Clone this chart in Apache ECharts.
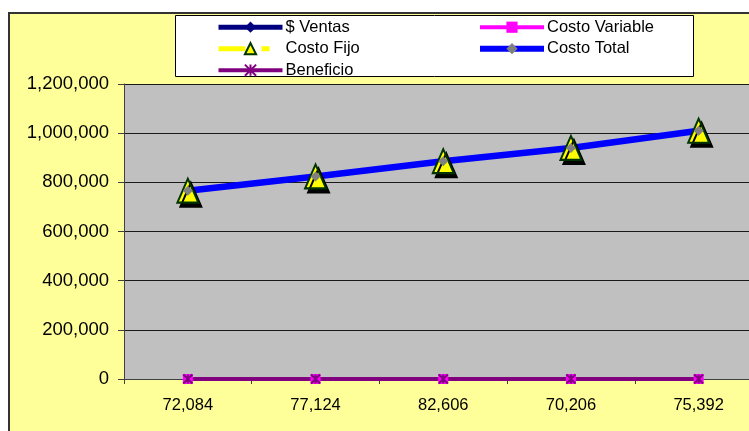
<!DOCTYPE html>
<html>
<head>
<meta charset="utf-8">
<script src="https://cdn.jsdelivr.net/npm/echarts@6/dist/echarts.min.js"></script>
<style>
  html, body { margin: 0; padding: 0; background: #ffffff; }
  #chart { width: 749px; height: 431px; }
</style>
</head>
<body>
<div id="chart"></div>
<script>
// Categorías del eje X (unidades vendidas)
const categorias = ['72,084', '77,124', '82,606', '70,206', '75,392'];

// Series del gráfico
const ventas        = [0, 0, 0, 0, 0];
const costoVariable = [0, 0, 0, 0, 0];
const costoFijo     = [766000, 824000, 886000, 940000, 1010000];
const costoTotal    = [766000, 824000, 886000, 940000, 1010000];
const beneficio     = [0, 0, 0, 0, 0];

// Escala del eje Y
const yMin = 0;
const yMax = 1200000;
const yPaso = 200000;

const FUENTE = '"Liberation Sans", Arial, sans-serif';
const ASTERISCO = 'path://M0,0L10,10M10,0L0,10M5,0L5,10';

const fmtMiles = v => String(v).replace(/\B(?=(\d{3})+(?!\d))/g, ',');

const chart = echarts.init(document.getElementById('chart'), null, { renderer: 'canvas' });

const legendaBase = {
  orient: 'vertical',
  itemWidth: 64,
  itemHeight: 14,
  itemGap: 4.5,
  padding: 0,
  selectedMode: false,
  textStyle: { fontFamily: FUENTE, fontSize: 16.5, color: '#000', lineHeight: 14, padding: [0, 0, 0, -2] }
};

chart.setOption({
  animation: false,
  backgroundColor: '#ffffff',
  graphic: [
    {
      type: 'rect', z: -10, silent: true,
      shape: { x: 9, y: 13, width: 800, height: 460 },
      style: { fill: '#FFFF99', stroke: '#333333', lineWidth: 2 }
    },
    {
      type: 'rect', z: -5, silent: true,
      shape: { x: 175.5, y: 15.5, width: 518, height: 61 },
      style: { fill: '#ffffff', stroke: '#000000', lineWidth: 1 }
    }
  ],
  legend: [
    Object.assign({}, legendaBase, {
      left: 216, top: 18.7,
      data: [
        { name: '$ Ventas', lineStyle: { color: '#000080', width: 5 } },
        {
          name: 'Costo Fijo',
          lineStyle: { color: '#FFFF00', width: 5, type: [27, 16, 8, 30] },
          itemStyle: { color: '#FFFF00', borderColor: '#003300', borderWidth: 2 }
        },
        {
          name: 'Beneficio',
          lineStyle: { color: '#800080', width: 4 },
          itemStyle: { color: 'rgba(0,0,0,0)', borderColor: '#800080', borderWidth: 2 }
        }
      ]
    }),
    Object.assign({}, legendaBase, {
      left: 477, top: 18.7,
      data: [
        { name: 'Costo Variable', lineStyle: { color: '#FF00FF', width: 4 } },
        { name: 'Costo Total', lineStyle: { color: '#0000FF', width: 6 } }
      ]
    })
  ],
  grid: {
    left: 124, width: 638.5, top: 84, bottom: 52,
    outerBoundsMode: 'none', containLabel: false,
    show: true, backgroundColor: '#C0C0C0', borderWidth: 0
  },
  xAxis: {
    type: 'category',
    data: categorias,
    boundaryGap: true,
    axisLine: { show: true, lineStyle: { color: '#404040', width: 1 } },
    axisTick: { show: true, interval: 0, length: 5, lineStyle: { color: '#404040' } },
    axisLabel: { interval: 0, margin: 18, color: '#000', fontFamily: FUENTE, fontSize: 16.5 },
    splitLine: { show: false }
  },
  yAxis: {
    type: 'value',
    min: yMin, max: yMax, interval: yPaso,
    axisLine: { show: true, lineStyle: { color: '#404040', width: 1 } },
    axisTick: { show: true, length: 6, lineStyle: { color: '#404040' } },
    axisLabel: { margin: 15, color: '#000', fontFamily: FUENTE, fontSize: 18.5, formatter: fmtMiles },
    splitLine: { show: true, lineStyle: { color: '#1a1a1a', width: 1 } }
  },
  series: [
    // Líneas
    {
      name: '$ Ventas', type: 'line', data: ventas, z: 2,
      symbol: 'diamond', showSymbol: false,
      lineStyle: { color: '#000080', width: 4 },
      itemStyle: { color: '#000080' }
    },
    {
      name: 'Costo Variable', type: 'line', data: costoVariable, z: 3,
      symbol: 'rect', showSymbol: false,
      lineStyle: { color: '#FF00FF', width: 4 },
      itemStyle: { color: '#FF00FF' }
    },
    {
      name: 'Costo Fijo', type: 'line', data: costoFijo, z: 4,
      symbol: 'triangle', showSymbol: false,
      lineStyle: { color: '#FFFF00', width: 4, type: [27, 16, 8, 30] },
      itemStyle: { color: '#FFFF00', borderColor: '#003300', borderWidth: 2 }
    },
    {
      name: 'Costo Total', type: 'line', data: costoTotal, z: 5,
      symbol: 'diamond', showSymbol: false,
      lineStyle: { color: '#0000FF', width: 6.5 },
      itemStyle: { color: '#808080' }
    },
    {
      name: 'Beneficio', type: 'line', data: beneficio, z: 5,
      symbol: ASTERISCO, showSymbol: false,
      lineStyle: { color: '#800080', width: 4 },
      itemStyle: { color: '#800080' }
    },
    // Marcadores (dibujados encima de todas las líneas)
    {
      name: 'marcasCostoVariable', type: 'scatter', data: costoVariable, z: 6,
      symbol: 'rect', symbolSize: 10,
      itemStyle: { color: '#FF00FF', opacity: 1 }
    },
    {
      name: 'marcasCostoFijo', type: 'scatter', data: costoFijo, z: 6,
      symbol: 'triangle', symbolSize: [21, 24],
      itemStyle: {
        color: '#FFFF00', borderColor: '#003300', borderWidth: 2, opacity: 1,
        shadowColor: '#000000', shadowBlur: 0, shadowOffsetX: 3, shadowOffsetY: 4
      }
    },
    {
      name: 'marcasCostoTotal', type: 'scatter', data: costoTotal, z: 7,
      symbol: 'diamond', symbolSize: 10,
      itemStyle: { color: '#808080', opacity: 1 }
    },
    {
      name: 'marcasBeneficio', type: 'scatter', data: beneficio, z: 7,
      symbol: ASTERISCO, symbolSize: 9,
      itemStyle: { color: 'rgba(0,0,0,0)', borderColor: '#800080', borderWidth: 2, opacity: 1 }
    }
  ]
});
</script>
</body>
</html>
